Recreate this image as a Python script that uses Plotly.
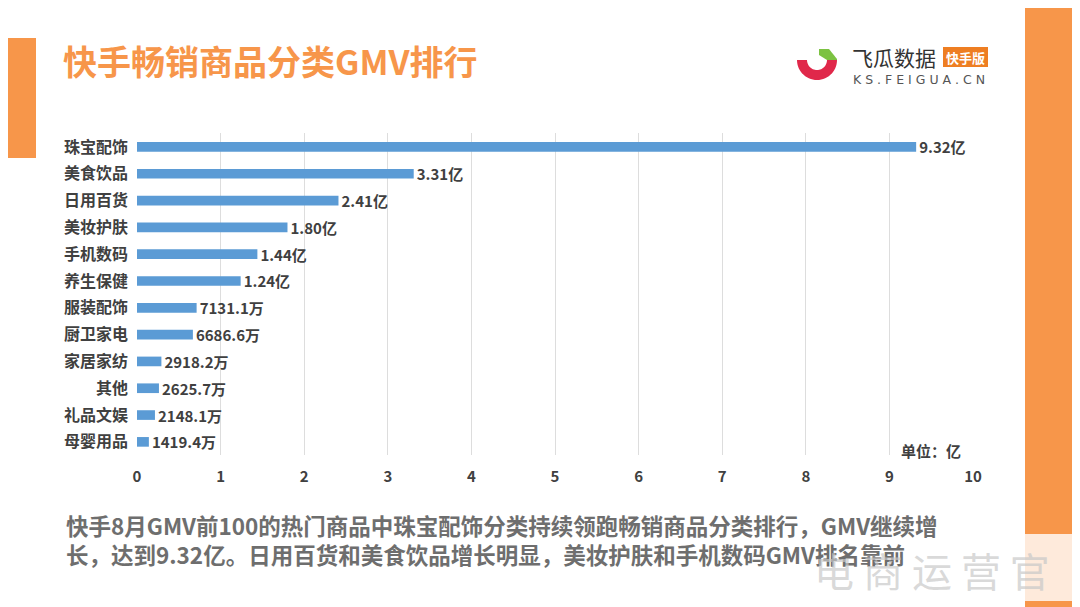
import math
import plotly.graph_objects as go

categories = ["珠宝配饰", "美食饮品", "日用百货", "美妆护肤", "手机数码", "养生保健",
              "服装配饰", "厨卫家电", "家居家纺", "其他", "礼品文娱", "母婴用品"]
values = [9.32, 3.31, 2.41, 1.80, 1.44, 1.24, 0.71311, 0.66866, 0.29182, 0.26257, 0.21481, 0.14194]
value_labels = ["9.32亿", "3.31亿", "2.41亿", "1.80亿", "1.44亿", "1.24亿",
                "7131.1万", "6686.6万", "2918.2万", "2625.7万", "2148.1万", "1419.4万"]
x_ticks = [0, 1, 2, 3, 4, 5, 6, 7, 8, 9, 10]

OFF = 8  # page body margin
W, H = 1080 - OFF, 607 - OFF
L, R, T, B = 137 - OFF, 973 - OFF, 133 - OFF, 455 - OFF
FONT = "Noto Sans CJK SC"
ORANGE = "#F7964A"
GRAY = "#404040"

def px(x):  # reference pixel -> paper
    return (x - OFF - L) / (R - L)

def py(y):
    return (B - (y - OFF)) / (B - T)

cats_r = categories[::-1]
vals_r = values[::-1]
labs_r = ["<b>" + s + "</b>" for s in value_labels[::-1]]

fig = go.Figure(go.Bar(
    y=cats_r, x=vals_r, orientation="h",
    marker=dict(color="#5B9BD5", line=dict(width=0)),
    width=0.36,
    text=labs_r, textposition="outside", cliponaxis=False, constraintext="none",
    textfont=dict(family=FONT, size=15, color=GRAY),
))

shapes = []
shapes.append(dict(type="rect", xref="paper", yref="paper", x0=px(1025), x1=px(1085),
                   y0=py(612), y1=py(0), fillcolor=ORANGE, line=dict(width=0), layer="below"))
shapes.append(dict(type="rect", xref="paper", yref="paper", x0=px(-5), x1=px(36),
                   y0=py(158), y1=py(38), fillcolor=ORANGE, line=dict(width=0), layer="below"))
shapes.append(dict(type="rect", xref="paper", yref="paper", x0=px(943), x1=px(988),
                   y0=py(67), y1=py(47), fillcolor="#EE7E22", line=dict(width=0)))

cx, cy, r_out, r_in = 817, 60, 20, 10
def ring(a0, a1, n=30):
    pts = []
    for i in range(n + 1):
        a = math.radians(a0 + (a1 - a0) * i / n)
        pts.append((cx + r_out * math.cos(a), cy + r_out * math.sin(a)))
    for i in range(n + 1):
        a = math.radians(a1 - (a1 - a0) * i / n)
        pts.append((cx + r_in * math.cos(a), cy + r_in * math.sin(a)))
    return "M " + " L ".join(f"{px(x):.5f},{py(y):.5f}" for x, y in pts) + " Z"
shapes.append(dict(type="path", xref="paper", yref="paper", path=ring(0, 180),
                   fillcolor="#E0284A", line=dict(width=0)))
gp = [(819, 49), (829, 49), (837, 59), (837, 60), (827, 60), (819, 55)]
shapes.append(dict(type="path", xref="paper", yref="paper",
                   path="M " + " L ".join(f"{px(x):.5f},{py(y):.5f}" for x, y in gp) + " Z",
                   fillcolor="#7CC242", line=dict(width=0)))
shapes.append(dict(type="rect", xref="paper", yref="paper", x0=px(790), x1=px(1078),
                   y0=py(601), y1=py(534), fillcolor="rgba(255,255,255,0.8)", line=dict(width=0)))

def ann(text, x, y, size, color, xanchor="left", family=FONT):
    return dict(text=text, x=px(x), y=py(y), xref="paper", yref="paper",
                xanchor=xanchor, yanchor="middle", showarrow=False, align="left",
                font=dict(family=family, size=size, color=color))

body = ("<b>快手8月GMV前100的热门商品中珠宝配饰分类持续领跑畅销商品分类排行，GMV继续增</b><br>"
        "<b>长，达到9.32亿。日用百货和美食饮品增长明显，美妆护肤和手机数码GMV排名靠前</b>")

annotations = [
    ann("<b>快手畅销商品分类GMV排行</b>", 61, 60, 34, ORANGE),
    ann("飞瓜数据", 850, 57, 21, "#333333"),
    ann("<b>快手版</b>", 965.5, 57, 13, "white", xanchor="center"),
    ann("K S . F E I G U A . C N", 851, 79, 12.5, "#555555", family="DejaVu Sans"),
    ann("<b>单位：亿</b>", 931, 450, 15, GRAY, xanchor="center"),
    ann(body, 64, 539, 22.5, "#6E6E6E"),
    ann("电 商 运 营 官", 932, 570, 40, "rgba(200,200,200,0.7)", xanchor="center"),
]

fig.update_layout(
    width=W, height=H,
    margin=dict(l=L, r=W - R, t=T, b=H - B, pad=0),
    paper_bgcolor="white", plot_bgcolor="white",
    showlegend=False,
    shapes=shapes, annotations=annotations,
    xaxis=dict(range=[0, 10], tickvals=x_ticks, ticktext=["<b>%d</b>" % v for v in x_ticks],
               showgrid=True, gridcolor="#DDDDDD", gridwidth=1, zeroline=False,
               showline=False, ticks="", ticklabelstandoff=11,
               tickfont=dict(family=FONT, size=15, color=GRAY)),
    yaxis=dict(categoryorder="array", categoryarray=cats_r, range=[-0.49, 11.52],
               showgrid=False, zeroline=False, showline=False, ticks="",
               ticktext=["<b>" + c + "</b>" for c in cats_r], tickvals=cats_r,
               ticklabelstandoff=8,
               tickfont=dict(family=FONT, size=16, color=GRAY)),
)

fig.write_html("out.html")
